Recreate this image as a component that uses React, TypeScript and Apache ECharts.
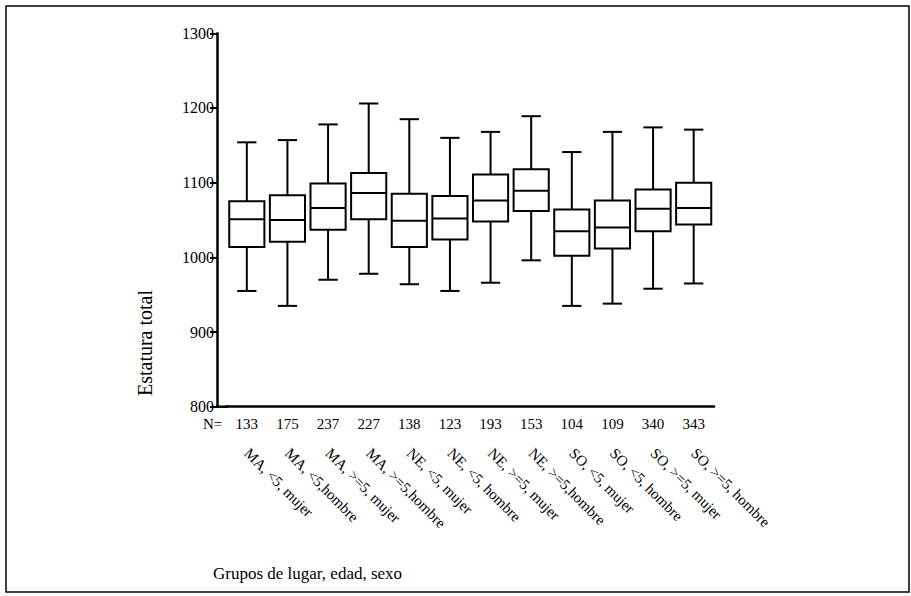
import React, { useEffect, useRef } from "react";
import * as echarts from "echarts";

const groups = [
  "MA, <5, mujer",
  "MA, <5,hombre",
  "MA, >=5, mujer",
  "MA, >=5,hombre",
  "NE, <5, mujer",
  "NE, <5, hombre",
  "NE, >=5, mujer",
  "NE, >=5,hombre",
  "SO, <5, mujer",
  "SO, <5, hombre",
  "SO, >=5, mujer",
  "SO, >=5, hombre",
];
const nValues = ["133", "175", "237", "227", "138", "123", "193", "153", "104", "109", "340", "343"];
const lowWhisker = [955, 935, 970, 978, 964, 955, 966, 996, 935, 938, 958, 965];
const q1 = [1014, 1021, 1037, 1051, 1014, 1024, 1048, 1062, 1002, 1012, 1035, 1044];
const median = [1051, 1050, 1066, 1086, 1049, 1052, 1076, 1089, 1035, 1040, 1065, 1066];
const q3 = [1075, 1083, 1099, 1113, 1085, 1082, 1111, 1118, 1064, 1076, 1091, 1100];
const highWhisker = [1154, 1157, 1178, 1206, 1185, 1160, 1168, 1189, 1141, 1168, 1174, 1171];
const yMin = 800;
const yMax = 1300;
const yStep = 100;

const FONT = "'Liberation Serif', 'DejaVu Serif', serif";

export default function App() {
  const ref = useRef<HTMLDivElement>(null);
  useEffect(() => {
    if (!ref.current) return;
    const chart = echarts.init(ref.current, undefined, { renderer: "svg" });
    const data = groups.map((_, i) => [i, lowWhisker[i], q1[i], median[i], q3[i], highWhisker[i]]);
    chart.setOption({
      animation: false,
      backgroundColor: "#fff",
      textStyle: { fontFamily: FONT, color: "#000" },
      grid: { left: 226.5, right: 197, top: 33.3, bottom: 189.3, containLabel: false },
      xAxis: [
        {
          type: "category",
          data: groups,
          position: "bottom",
          axisLine: { show: true, lineStyle: { color: "#000", width: 2.5 } },
          axisTick: { show: false },
          splitLine: { show: false },
          axisLabel: {
            interval: 0,
            margin: 10,
            fontSize: 15,
            fontFamily: FONT,
            color: "#000",
            formatter: (_v: string, i: number) => nValues[i],
          },
        },
        {
          type: "category",
          data: groups,
          position: "bottom",
          offset: 0,
          axisLine: { show: false },
          axisTick: { show: false },
          splitLine: { show: false },
          axisLabel: {
            interval: 0,
            rotate: -45,
            margin: 44,
            fontSize: 15,
            fontFamily: FONT,
            color: "#000",
          },
        },
      ],
      yAxis: {
        type: "value",
        min: yMin,
        max: yMax,
        interval: yStep,
        offset: 9.5,
        axisLine: { show: true, lineStyle: { color: "#000", width: 2.5 } },
        axisTick: { show: true, length: 7, lineStyle: { color: "#000", width: 2 } },
        splitLine: { show: false },
        axisLabel: {
          margin: 3,
          fontSize: 16,
          fontFamily: FONT,
          color: "#000",
          formatter: (v: number) => String(v),
        },
      },
      graphic: [
        {
          type: "rect",
          shape: { x: 6, y: 6, width: 903, height: 586 },
          style: { fill: "none", stroke: "#000", lineWidth: 1.5 },
          silent: true,
        },
        {
          type: "line",
          shape: { x1: 216, y1: 406.7, x2: 228, y2: 406.7 },
          style: { stroke: "#000", lineWidth: 2.5 },
          silent: true,
        },
        {
          type: "text",
          x: 203,
          y: 424,
          style: { text: "N=", font: `15px ${FONT}`, fill: "#000", textAlign: "left", textVerticalAlign: "middle" },
          silent: true,
        },
        {
          type: "text",
          x: 145,
          y: 343,
          rotation: Math.PI / 2,
          style: { text: "Estatura total", font: `20px ${FONT}`, fill: "#000", textAlign: "center", textVerticalAlign: "middle" },
          silent: true,
        },
        {
          type: "text",
          x: 213,
          y: 573,
          style: { text: "Grupos de lugar, edad, sexo", font: `17px ${FONT}`, fill: "#000", textAlign: "left", textVerticalAlign: "middle" },
          silent: true,
        },
      ],
      series: [
        {
          type: "custom",
          xAxisIndex: 0,
          yAxisIndex: 0,
          encode: { x: 0, y: [1, 2, 3, 4, 5] },
          data,
          renderItem: (_params: any, api: any) => {
            const x = api.value(0);
            const lo = api.coord([x, api.value(1)]);
            const p1 = api.coord([x, api.value(2)]);
            const pm = api.coord([x, api.value(3)]);
            const p3 = api.coord([x, api.value(4)]);
            const hi = api.coord([x, api.value(5)]);
            const band = api.size([1, 0])[0];
            const bw = band * 0.865;
            const cw = band * 0.475;
            const cx = lo[0];
            const st = { stroke: "#000", lineWidth: 2, fill: "none" };
            return {
              type: "group",
              children: [
                { type: "line", shape: { x1: cx, y1: hi[1], x2: cx, y2: p3[1] }, style: st },
                { type: "line", shape: { x1: cx, y1: p1[1], x2: cx, y2: lo[1] }, style: st },
                { type: "line", shape: { x1: cx - cw / 2, y1: hi[1], x2: cx + cw / 2, y2: hi[1] }, style: st },
                { type: "line", shape: { x1: cx - cw / 2, y1: lo[1], x2: cx + cw / 2, y2: lo[1] }, style: st },
                {
                  type: "rect",
                  shape: { x: cx - bw / 2, y: p3[1], width: bw, height: p1[1] - p3[1] },
                  style: { stroke: "#000", lineWidth: 2, fill: "#fff" },
                },
                { type: "line", shape: { x1: cx - bw / 2, y1: pm[1], x2: cx + bw / 2, y2: pm[1] }, style: st },
              ],
            };
          },
        },
      ],
    });
    return () => chart.dispose();
  }, []);
  return (
    <div
      ref={ref}
      style={{ position: "fixed", left: 0, top: 0, width: 911, height: 596, background: "#fff" }}
    />
  );
}
